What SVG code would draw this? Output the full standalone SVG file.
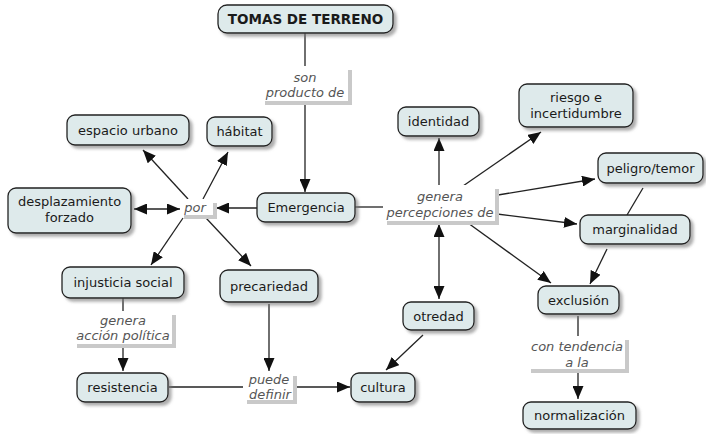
<svg xmlns="http://www.w3.org/2000/svg" width="706" height="434" viewBox="0 0 706 434">
<defs>
<filter id="sh" x="-20%" y="-30%" width="140%" height="170%">
<feDropShadow dx="3" dy="3" stdDeviation="1.5" flood-color="#777" flood-opacity="0.6"/>
</filter>
<marker id="ah" markerUnits="userSpaceOnUse" markerWidth="13" markerHeight="11" refX="13" refY="5.5" orient="auto-start-reverse">
<path d="M0,0 L13,5.5 L0,11 z" fill="#111"/>
</marker>
<style>
.n rect{fill:#deeaeb;stroke:#222;stroke-width:1.3;filter:url(#sh)}
.n text{font-family:"DejaVu Sans",Verdana,sans-serif;font-size:13px;fill:#1a1a1a;text-anchor:middle}
.l .s{fill:#c9c9c9}
.l .b{fill:#fff}
.l text{font-family:"DejaVu Sans",Verdana,sans-serif;font-size:13px;font-style:italic;fill:#555;text-anchor:middle}
.c line{stroke:#222;stroke-width:1.3;fill:none}
.c .a{marker-end:url(#ah)}
.c .d{marker-start:url(#ah);marker-end:url(#ah)}
</style>
</defs>
<rect width="706" height="434" fill="#fff"/>

<g id="connectors" class="c">
<line x1="305" y1="33" x2="305" y2="66"/>
<line class="a" x1="305" y1="104" x2="305" y2="192"/>
<line class="a" x1="257" y1="208" x2="216" y2="208"/>
<line class="d" x1="134" y1="209" x2="180" y2="209"/>
<line class="a" x1="188" y1="199" x2="143" y2="150"/>
<line class="a" x1="203" y1="199" x2="228" y2="152"/>
<line class="a" x1="183" y1="218" x2="151" y2="265"/>
<line class="a" x1="206" y1="218" x2="251" y2="266"/>
<line x1="355" y1="207" x2="383" y2="207"/>
<line class="a" x1="439" y1="186" x2="439" y2="138"/>
<line class="a" x1="463" y1="186" x2="541" y2="132"/>
<line class="a" x1="498" y1="195" x2="595" y2="179"/>
<line class="a" x1="497" y1="214" x2="577" y2="224"/>
<line x1="643" y1="188" x2="627" y2="215"/>
<line class="a" x1="607" y1="249" x2="590" y2="284"/>
<line class="a" x1="468" y1="223" x2="551" y2="283"/>
<line class="d" x1="439" y1="224" x2="439" y2="299"/>
<line class="a" x1="423" y1="335" x2="386" y2="370"/>
<line x1="123" y1="298" x2="123" y2="311"/>
<line class="a" x1="123" y1="345" x2="123" y2="371"/>
<line class="a" x1="269" y1="304" x2="269" y2="371"/>
<line x1="169" y1="387" x2="243" y2="387"/>
<line class="a" x1="295" y1="387" x2="350" y2="387"/>
<line x1="578" y1="316" x2="578" y2="336"/>
<line class="a" x1="578" y1="372" x2="578" y2="399"/>
</g>

<g id="lbl-son-producto-de" class="l">
<rect class="s" x="265" y="70" width="87" height="35"/>
<rect class="b" x="261" y="66" width="87" height="35"/>
<text x="305" y="82">son</text>
<text x="305" y="97">producto de</text>
</g>
<g id="lbl-por" class="l">
<rect class="s" x="184" y="203" width="33" height="16"/>
<rect class="b" x="180" y="199" width="33" height="16"/>
<text x="195" y="212">por</text>
</g>
<g id="lbl-genera-percepciones" class="l">
<rect class="s" x="387" y="189" width="112" height="36"/>
<rect class="b" x="383" y="185" width="112" height="36"/>
<text x="440" y="201">genera</text>
<text x="440" y="217">percepciones de</text>
</g>
<g id="lbl-genera-accion" class="l">
<rect class="s" x="77" y="315" width="99" height="33"/>
<rect class="b" x="73" y="311" width="99" height="33"/>
<text x="123" y="325">genera</text>
<text x="123" y="340">acción política</text>
</g>
<g id="lbl-puede-definir" class="l">
<rect class="s" x="247" y="376" width="50" height="28"/>
<rect class="b" x="243" y="372" width="50" height="28"/>
<text x="269" y="384">puede</text>
<text x="270" y="399">definir</text>
</g>
<g id="lbl-con-tendencia" class="l">
<rect class="s" x="531" y="340" width="98" height="33"/>
<rect class="b" x="527" y="336" width="98" height="33"/>
<text x="577" y="351">con tendencia</text>
<text x="577" y="367">a la</text>
</g>

<g id="n-tomas" class="n">
<rect x="218" y="5" width="175" height="28" rx="9"/>
<text x="305.5" y="24" style="font-weight:bold;font-size:13.5px">TOMAS DE TERRENO</text>
</g>
<g id="n-emergencia" class="n">
<rect x="257" y="193" width="98" height="29" rx="8"/>
<text x="306" y="212">Emergencia</text>
</g>
<g id="n-espacio" class="n">
<rect x="67" y="115" width="122" height="30" rx="8"/>
<text x="128" y="135">espacio urbano</text>
</g>
<g id="n-habitat" class="n">
<rect x="207" y="117" width="65" height="29" rx="8"/>
<text x="239.5" y="136">hábitat</text>
</g>
<g id="n-desplazamiento" class="n">
<rect x="8" y="188" width="123" height="45" rx="8"/>
<text x="69.5" y="206">desplazamiento</text>
<text x="69.5" y="222">forzado</text>
</g>
<g id="n-injusticia" class="n">
<rect x="62" y="267" width="122" height="31" rx="8"/>
<text x="123" y="287">injusticia social</text>
</g>
<g id="n-precariedad" class="n">
<rect x="220" y="270" width="98" height="32" rx="8"/>
<text x="269" y="291">precariedad</text>
</g>
<g id="n-resistencia" class="n">
<rect x="77" y="373" width="91" height="29" rx="8"/>
<text x="122.5" y="392">resistencia</text>
</g>
<g id="n-cultura" class="n">
<rect x="351" y="373" width="64" height="29" rx="8"/>
<text x="383" y="392">cultura</text>
</g>
<g id="n-otredad" class="n">
<rect x="403" y="302" width="71" height="28" rx="8"/>
<text x="438.5" y="320.5">otredad</text>
</g>
<g id="n-exclusion" class="n">
<rect x="538" y="286" width="81" height="28" rx="8"/>
<text x="578.5" y="304.5">exclusión</text>
</g>
<g id="n-normalizacion" class="n">
<rect x="523" y="402" width="113" height="27" rx="8"/>
<text x="579.5" y="420">normalización</text>
</g>
<g id="n-identidad" class="n">
<rect x="398" y="107" width="81" height="29" rx="8"/>
<text x="438.5" y="126">identidad</text>
</g>
<g id="n-riesgo" class="n">
<rect x="519" y="84" width="114" height="43" rx="8"/>
<text x="576" y="102">riesgo e</text>
<text x="576" y="118">incertidumbre</text>
</g>
<g id="n-peligro" class="n">
<rect x="598" y="153" width="105" height="30" rx="8"/>
<text x="650.5" y="172.5">peligro/temor</text>
</g>
<g id="n-marginalidad" class="n">
<rect x="580" y="215" width="110" height="29" rx="8"/>
<text x="635" y="234">marginalidad</text>
</g>
</svg>
